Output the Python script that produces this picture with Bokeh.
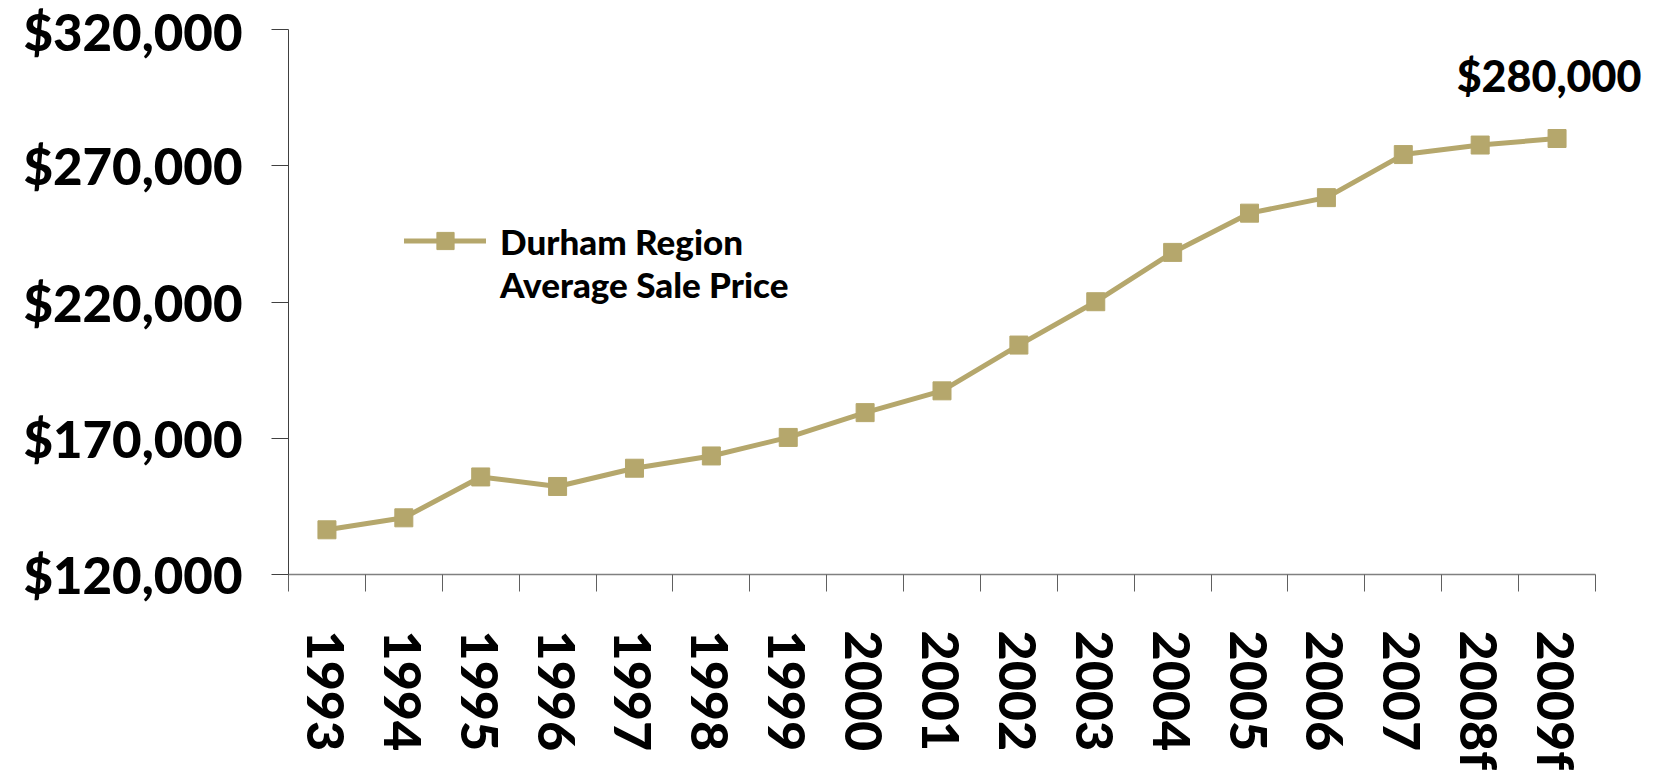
import math
from bokeh.plotting import figure
from bokeh.models import (Range1d, LinearAxis, FixedTicker, Label,
                          NumeralTickFormatter, Legend, LegendItem)
from bokeh.embed import file_html
from bokeh.resources import INLINE

# ---- data ----
years = ["1993", "1994", "1995", "1996", "1997", "1998", "1999", "2000", "2001",
         "2002", "2003", "2004", "2005", "2006", "2007", "2008f", "2009f"]
prices = [136400, 140800, 155800, 152300, 159000, 163500, 170300, 179400, 187400,
          204200, 220100, 238200, 252600, 258300, 274100, 277600, 280000]
legend_lines = ["Durham Region", "Average Sale Price"]
y_ticks = [120000, 170000, 220000, 270000, 320000]

# category centres on a numeric axis (category boundaries at integers)
xs = [i + 0.5 for i in range(len(years))]
bounds = list(range(len(years) + 1))

COLOR = "#B5A76C"
FONT = "'Lato Black', Lato"

W, H = 1648, 773
LEFT, AXIS_W = 288, 1307          # plot area left edge and width of the category axis
unit = AXIS_W / len(years)
x_end = len(years) + (W - LEFT - AXIS_W) / unit   # frame runs to the right edge (room for the label)

p = figure(width=W, height=H,
           x_range=Range1d(0, x_end),
           y_range=Range1d(y_ticks[0], y_ticks[-1]),
           x_axis_type=None,
           output_backend="svg", toolbar_location=None,
           min_border_left=LEFT, min_border_right=0,
           min_border_top=29, min_border_bottom=199)
p.outline_line_color = None
p.xgrid.visible = False
p.ygrid.visible = False
p.background_fill_color = "white"

# y axis
ya = p.yaxis[0]
ya.ticker = FixedTicker(ticks=y_ticks)
ya.formatter = NumeralTickFormatter(format="$0,0")
ya.major_tick_out = 17
ya.major_tick_in = 0
ya.minor_tick_line_color = None
ya.axis_line_color = "#404040"
ya.major_tick_line_color = "#404040"
ya.major_label_standoff = 29
ya.major_label_text_font = FONT
ya.major_label_text_font_style = "bold"
ya.major_label_text_font_size = "51px"
ya.major_label_text_color = "black"

# x axis: labels at category centres, tick marks (minor) at category boundaries
xa = LinearAxis(ticker=FixedTicker(ticks=xs, minor_ticks=bounds),
                bounds=(0, len(years)),
                major_label_overrides={x: y for x, y in zip(xs, years)},
                axis_line_color="#808080", axis_line_width=1.5,
                major_tick_line_color=None, major_tick_out=0, major_tick_in=0,
                minor_tick_line_color="#606060", minor_tick_out=17, minor_tick_in=0,
                major_label_orientation=-math.pi / 2,
                major_label_standoff=39,
                major_label_text_font=FONT,
                major_label_text_font_style="bold",
                major_label_text_font_size="52px",
                major_label_text_color="black")
p.add_layout(xa, "below")

# series
r_line = p.line(xs, prices, line_color=COLOR, line_width=5,
                line_join="round", line_cap="round")
r_pts = p.scatter(xs, prices, marker="square", size=18,
                  fill_color=COLOR, line_color=COLOR)
r_blank = p.line(x=[], y=[], line_alpha=0)

# data label on the last point
p.add_layout(Label(x=xs[-1], y=prices[-1], text="${:,}".format(prices[-1]),
                   text_font=FONT, text_font_style="bold", text_font_size="43px",
                   text_color="black", text_align="center", text_baseline="alphabetic",
                   x_offset=-8, y_offset=63))

legend = Legend(items=[LegendItem(label=legend_lines[0], renderers=[r_line, r_pts]),
                       LegendItem(label=legend_lines[1], renderers=[r_blank])],
                location=(116, 269), orientation="vertical",
                glyph_width=82, glyph_height=43, label_height=43,
                label_standoff=14, spacing=0, padding=0, margin=0,
                border_line_color=None, background_fill_alpha=0,
                label_text_font=FONT, label_text_font_style="bold",
                label_text_font_size="35px", label_text_color="black")
p.add_layout(legend, "center")

open("out.html", "w").write(file_html(p, INLINE))
